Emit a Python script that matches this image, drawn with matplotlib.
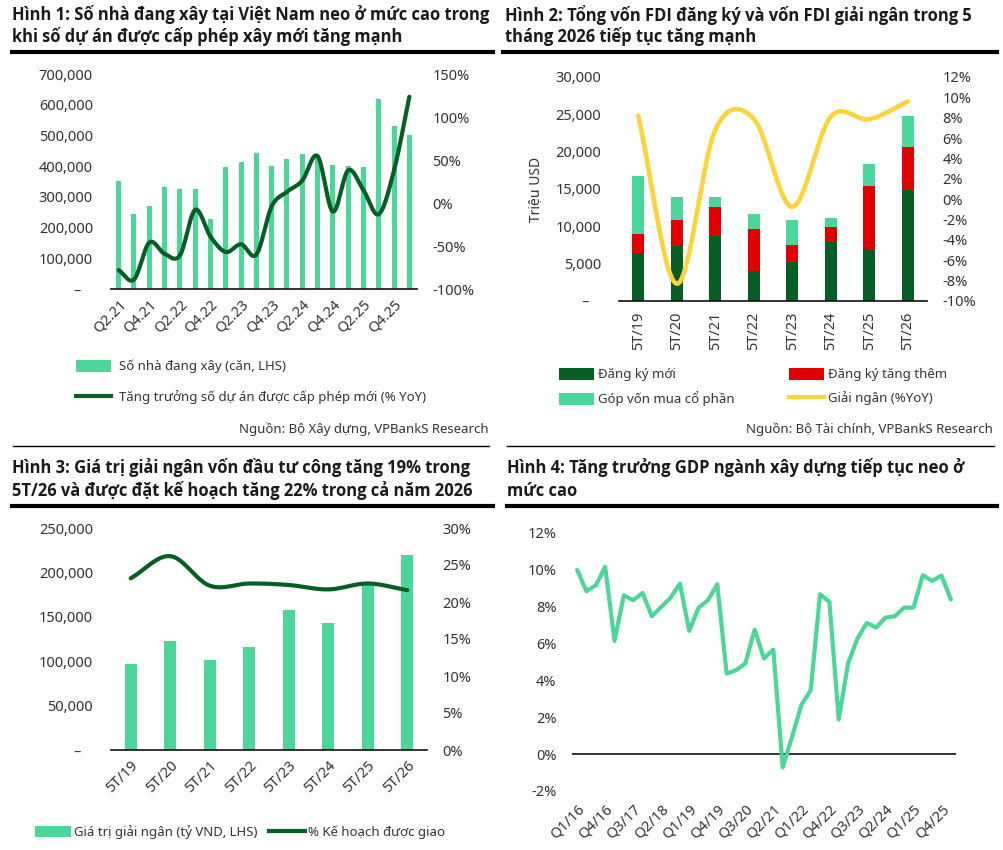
# %%
import numpy as np
import matplotlib
matplotlib.use('Agg')
import matplotlib.pyplot as plt
from matplotlib.patches import Patch
from matplotlib.lines import Line2D
from matplotlib.ticker import FuncFormatter

plt.rcParams['font.family'] = ['Noto Sans', 'DejaVu Sans']

# %%
# Hinh 1 data
q1_labels = ['Q2.21', 'Q3.21', 'Q4.21', 'Q1.22', 'Q2.22', 'Q3.22', 'Q4.22',
             'Q1.23', 'Q2.23', 'Q3.23', 'Q4.23', 'Q1.24', 'Q2.24', 'Q3.24',
             'Q4.24', 'Q1.25', 'Q2.25', 'Q3.25', 'Q4.25', 'Q1.26']
houses = [351000, 243000, 271000, 331000, 326000, 324000, 227000, 398000,
          413000, 442000, 402000, 422000, 438000, 436000, 403000, 400000,
          398000, 618000, 530000, 501000]
permit_growth = [-78, -89, -46, -59, -61, -8, -39, -57, -48, -60, -4, 13,
                 26, 54.5, -10, 38, 15, -13, 38, 123.6]

# Hinh 2 data
fdi_labels = ['5T/19', '5T/20', '5T/21', '5T/22', '5T/23', '5T/24', '5T/25', '5T/26']
fdi_new = [6400, 7400, 8700, 4000, 5200, 7900, 6900, 14800]
fdi_add = [2600, 3450, 3900, 5600, 2300, 2050, 8550, 5800]
fdi_share = [7700, 3050, 1350, 2050, 3300, 1100, 2900, 4200]
fdi_disb = [8.2, -8.3, 6.8, 7.9, -0.75, 8.1, 7.85, 9.6]

# Hinh 3 data
pub_labels = ['5T/19', '5T/20', '5T/21', '5T/22', '5T/23', '5T/24', '5T/25', '5T/26']
pub_disb = [96600, 122200, 101900, 116200, 157500, 143200, 186500, 219900]
pub_plan = [23.2, 26.2, 22.2, 22.5, 22.3, 21.7, 22.5, 21.6]

# Hinh 4 data (Q1/16 .. Q1/26)
gdp_labels = ['Q%d/%d' % (q, y) for y in range(16, 27) for q in range(1, 5)][:41]
gdp_growth = [10.0, 8.84, 9.16, 10.16, 6.14, 8.62, 8.35, 8.75, 7.48, 7.99,
              8.49, 9.25, 6.69, 7.95, 8.35, 9.22, 4.37, 4.55, 4.92, 6.76,
              5.19, 5.67, -0.72, 0.94, 2.66, 3.47, 8.68, 8.26, 1.88, 4.92,
              6.27, 7.12, 6.87, 7.41, 7.48, 7.95, 7.95, 9.71, 9.40, 9.69, 8.39]

# colours
light_green = '#4cd699'
dark_green = '#075e24'
red = '#e00000'
yellow = '#ffd43b'
tick_col = '#333333'

W, H = 1004, 850


def rect(left, top, right, bottom):
    # pixel box -> figure fraction
    return [left / W, 1 - bottom / H, (right - left) / W, (bottom - top) / H]


def smooth(x, y, n=24):
    # catmull-rom curve through the points, like excel "smoothed line"
    x = np.asarray(x, float)
    y = np.asarray(y, float)
    px = np.concatenate([[2 * x[0] - x[1]], x, [2 * x[-1] - x[-2]]])
    py = np.concatenate([[2 * y[0] - y[1]], y, [2 * y[-1] - y[-2]]])
    t = np.linspace(0, 1, n, endpoint=False)[:, None]
    xs, ys = [], []
    for i in range(1, len(px) - 2):
        for arr, out in ((px, xs), (py, ys)):
            p0, p1, p2, p3 = arr[i - 1], arr[i], arr[i + 1], arr[i + 2]
            c = 0.5 * ((2 * p1) + (-p0 + p2) * t + (2 * p0 - 5 * p1 + 4 * p2 - p3) * t ** 2
                       + (-p0 + 3 * p1 - 3 * p2 + p3) * t ** 3)
            out.extend(c.ravel())
    xs.append(x[-1])
    ys.append(y[-1])
    return np.array(xs), np.array(ys)


def num_fmt(v, pos):
    if abs(v) < 1e-9:
        return '–   '
    return f'{v:,.0f}'


def pct_fmt(v, pos):
    return f'{v:.0f}%'


def style_axes(ax, ax_r=None):
    for s in ['top', 'right', 'left']:
        ax.spines[s].set_visible(False)
    ax.spines['bottom'].set_color('#111111')
    ax.spines['bottom'].set_linewidth(1.2)
    ax.tick_params(axis='both', length=0, labelsize=10.5, labelcolor=tick_col)
    ax.tick_params(axis='y', pad=13)
    if ax_r is not None:
        for s in ax_r.spines.values():
            s.set_visible(False)
        ax_r.tick_params(axis='y', length=0, labelsize=10.5, labelcolor=tick_col, pad=11)


fig = plt.figure(figsize=(W / 100, H / 100), dpi=100)
fig.patch.set_facecolor('white')

# %% Hinh 1
ax1 = fig.add_axes(rect(111, 74, 417, 289))
x1 = np.arange(len(houses))
ax1.bar(x1, houses, width=0.33, color=light_green, zorder=2)
ax1.set_ylim(0, 700000)
ax1.set_yticks(np.arange(0, 700001, 100000))
ax1.yaxis.set_major_formatter(FuncFormatter(num_fmt))
ax1.set_xlim(-0.5, len(houses) - 0.5)
ax1.set_xticks(x1[::2])
ax1.set_xticklabels(q1_labels[::2], rotation=45, ha='right', rotation_mode='anchor')
ax1r = ax1.twinx()
sx, sy = smooth(x1, permit_growth)
ax1r.plot(sx, sy, color=dark_green, lw=3, solid_capstyle='round', zorder=3)
ax1r.set_ylim(-100, 150)
ax1r.set_yticks(np.arange(-100, 151, 50))
ax1r.yaxis.set_major_formatter(FuncFormatter(pct_fmt))
style_axes(ax1, ax1r)
ax1.tick_params(axis='x', pad=6)

leg1 = ax1.legend(handles=[Patch(facecolor=light_green, label='Số nhà đang xây (căn, LHS)'),
                           Line2D([0], [0], color=dark_green, lw=3,
                                  label='Tăng trưởng số dự án được cấp phép mới (% YoY)')],
                  loc='upper left', bbox_to_anchor=(64 / W, 1 - 348 / H),
                  bbox_transform=fig.transFigure, frameon=False, fontsize=9.5,
                  handlelength=2.7, handleheight=1.0, handletextpad=0.6, labelspacing=1.3)
for t in leg1.get_texts():
    t.set_color(tick_col)

# %% Hinh 2
ax2 = fig.add_axes(rect(619, 77, 927, 301))
x2 = np.arange(len(fdi_new))
b1 = np.array(fdi_new)
b2 = b1 + np.array(fdi_add)
ax2.bar(x2, fdi_new, width=0.31, color=dark_green, zorder=2)
ax2.bar(x2, fdi_add, width=0.31, bottom=b1, color=red, zorder=2)
ax2.bar(x2, fdi_share, width=0.31, bottom=b2, color=light_green, zorder=2)
ax2.set_ylim(0, 30000)
ax2.set_yticks(np.arange(0, 30001, 5000))
ax2.yaxis.set_major_formatter(FuncFormatter(num_fmt))
ax2.set_xlim(-0.5, len(fdi_new) - 0.5)
ax2.set_xticks(x2)
ax2.set_xticklabels(fdi_labels, rotation=90, ha='center', va='top')
ax2.set_ylabel('Triệu USD', fontsize=10, color=tick_col, labelpad=8)
ax2r = ax2.twinx()
sx, sy = smooth(x2, fdi_disb)
ax2r.plot(sx, sy, color=yellow, lw=3.3, solid_capstyle='round', zorder=3)
ax2r.set_ylim(-10, 12)
ax2r.set_yticks(np.arange(-10, 13, 2))
ax2r.yaxis.set_major_formatter(FuncFormatter(pct_fmt))
style_axes(ax2, ax2r)
ax2.tick_params(axis='x', pad=8)

leg2a = ax2.legend(handles=[Patch(facecolor=dark_green, label='Đăng ký mới'),
                            Patch(facecolor=light_green, label='Góp vốn mua cổ phần')],
                   loc='upper left', bbox_to_anchor=(547 / W, 1 - 356 / H),
                   bbox_transform=fig.transFigure, frameon=False, fontsize=9.5,
                   handlelength=2.7, handleheight=1.0, handletextpad=0.3, labelspacing=0.75)
ax2.add_artist(leg2a)
leg2b = ax2.legend(handles=[Patch(facecolor=red, label='Đăng ký tăng thêm'),
                            Line2D([0], [0], color=yellow, lw=3, label='Giải ngân (%YoY)')],
                   loc='upper left', bbox_to_anchor=(777 / W, 1 - 356 / H),
                   bbox_transform=fig.transFigure, frameon=False, fontsize=9.5,
                   handlelength=2.7, handleheight=1.0, handletextpad=0.3, labelspacing=0.75)
for lg in (leg2a, leg2b):
    for t in lg.get_texts():
        t.set_color(tick_col)

# %% Hinh 3
ax3 = fig.add_axes(rect(111, 528, 427, 750))
x3 = np.arange(len(pub_disb))
ax3.bar(x3, pub_disb, width=0.3, color=light_green, zorder=2)
ax3.set_ylim(0, 250000)
ax3.set_yticks(np.arange(0, 250001, 50000))
ax3.yaxis.set_major_formatter(FuncFormatter(num_fmt))
ax3.set_xlim(-0.5, len(pub_disb) - 0.5)
ax3.set_xticks(x3)
ax3.set_xticklabels(pub_labels, rotation=45, ha='right', rotation_mode='anchor')
ax3r = ax3.twinx()
sx, sy = smooth(x3, pub_plan)
ax3r.plot(sx, sy, color=dark_green, lw=3, solid_capstyle='round', zorder=3)
ax3r.set_ylim(0, 30)
ax3r.set_yticks(np.arange(0, 31, 5))
ax3r.yaxis.set_major_formatter(FuncFormatter(pct_fmt))
style_axes(ax3, ax3r)
ax3.tick_params(axis='x', pad=6)

leg3 = ax3.legend(handles=[Patch(facecolor=light_green, label='Giá trị giải ngân (tỷ VND, LHS)'),
                           Line2D([0], [0], color=dark_green, lw=3, label='% Kế hoạch được giao')],
                  loc='center left', bbox_to_anchor=(23 / W, 1 - 832 / H),
                  bbox_transform=fig.transFigure, frameon=False, fontsize=9.5, ncol=2,
                  handlelength=2.7, handleheight=1.0, handletextpad=0.25, columnspacing=0.9)
for t in leg3.get_texts():
    t.set_color(tick_col)

# %% Hinh 4
ax4 = fig.add_axes(rect(572, 533, 956, 791))
x4 = np.arange(len(gdp_growth))
ax4.plot(x4, gdp_growth, color=light_green, lw=3, solid_joinstyle='round',
         solid_capstyle='round', zorder=3)
ax4.axhline(0, color='#111111', lw=1.2, zorder=2)
ax4.set_ylim(-2, 12)
ax4.set_yticks(np.arange(-2, 13, 2))
ax4.yaxis.set_major_formatter(FuncFormatter(pct_fmt))
ax4.set_xlim(-0.55, len(gdp_growth) - 0.45)
ax4.set_xticks(x4[::3][:14])
ax4.set_xticklabels(gdp_labels[::3][:14], rotation=45, ha='right', rotation_mode='anchor')
style_axes(ax4)
ax4.spines['bottom'].set_visible(False)
ax4.tick_params(axis='y', pad=11)
ax4.tick_params(axis='x', pad=8)

# %% titles, rules, sources
title_kw = dict(fontsize=11.9, fontweight='bold', color='#1a1a1a', va='center', ha='left',
                family=['Open Sans', 'Roboto', 'DejaVu Sans'])
fig.text(12 / W, 1 - 15 / H, 'Hình 1: Số nhà đang xây tại Việt Nam neo ở mức cao trong', **title_kw)
fig.text(12 / W, 1 - 37 / H, 'khi số dự án được cấp phép xây mới tăng mạnh', **title_kw)
fig.text(505 / W, 1 - 15 / H, 'Hình 2: Tổng vốn FDI đăng ký và vốn FDI giải ngân trong 5', **title_kw)
fig.text(505 / W, 1 - 37 / H, 'tháng 2026 tiếp tục tăng mạnh', **title_kw)
fig.text(12 / W, 1 - 468 / H, 'Hình 3: Giá trị giải ngân vốn đầu tư công tăng 19% trong', **title_kw)
fig.text(12 / W, 1 - 491 / H, '5T/26 và được đặt kế hoạch tăng 22% trong cả năm 2026', **title_kw)
fig.text(507 / W, 1 - 468 / H, 'Hình 4: Tăng trưởng GDP ngành xây dựng tiếp tục neo ở', **title_kw)
fig.text(507 / W, 1 - 491 / H, 'mức cao', **title_kw)


def hline(x0, x1, y, lw):
    fig.add_artist(Line2D([x0 / W, x1 / W], [1 - y / H, 1 - y / H], color='black', lw=lw,
                          transform=fig.transFigure))


hline(12, 493, 52, 3)
hline(503, 997, 52, 3)
hline(13, 489, 446, 1)
hline(507, 994, 446, 1)
hline(12, 493, 506, 3)
hline(507, 997, 506, 3)

src_kw = dict(fontsize=9.5, color=tick_col, va='center', ha='right')
fig.text(489 / W, 1 - 429 / H, 'Nguồn: Bộ Xây dựng, VPBankS Research', **src_kw)
fig.text(993 / W, 1 - 429 / H, 'Nguồn: Bộ Tài chính, VPBankS Research', **src_kw)

fig.savefig('out.png', dpi=100, facecolor='white')
